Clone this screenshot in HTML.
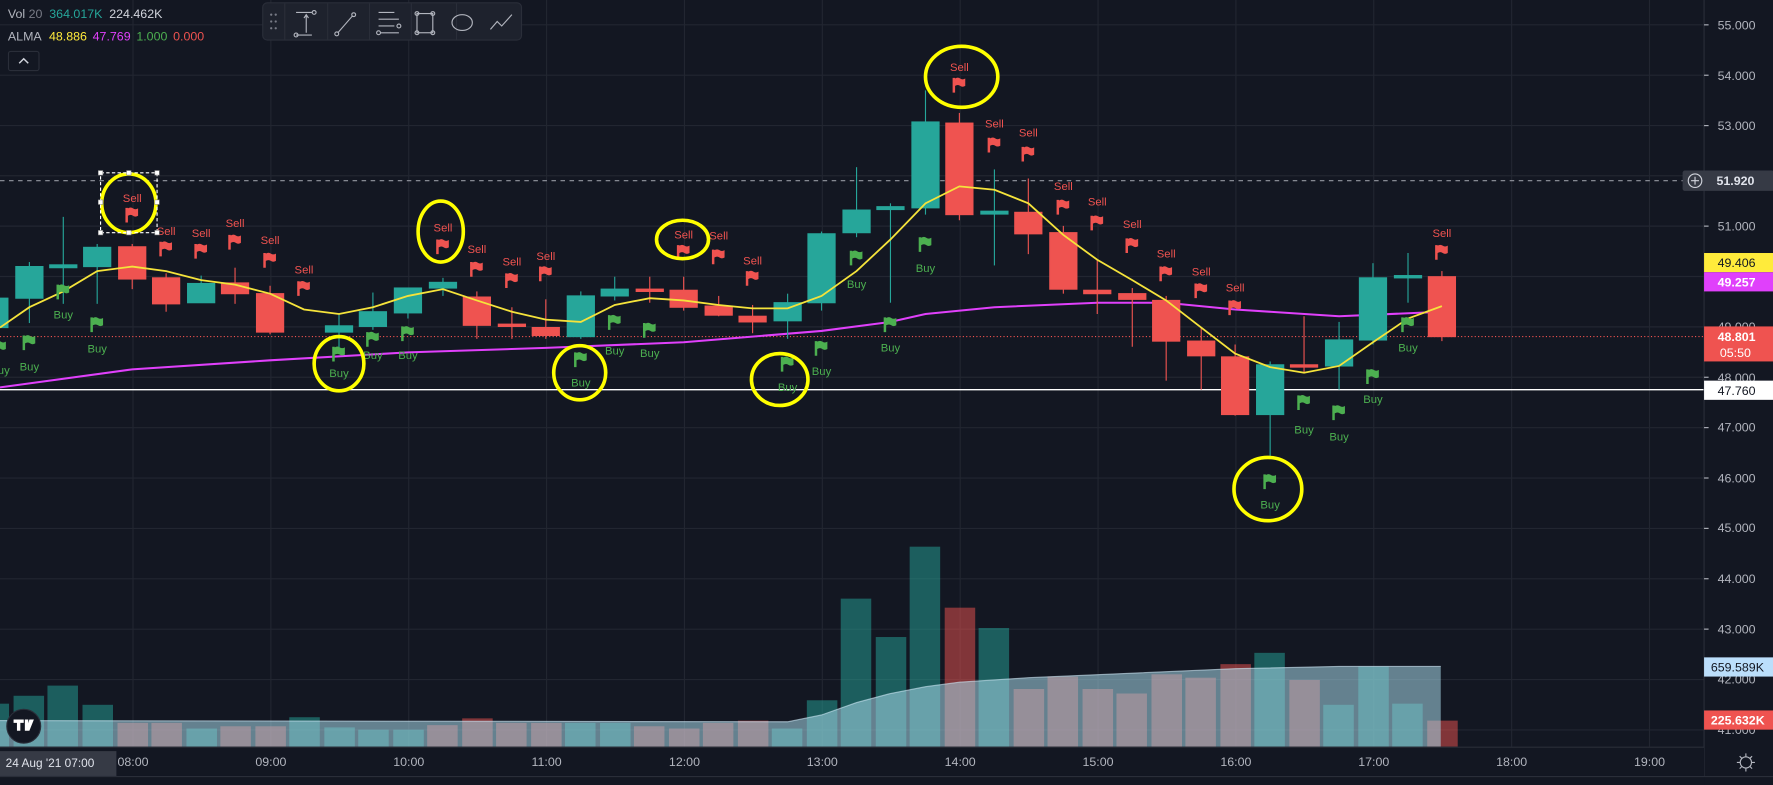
<!DOCTYPE html>
<html><head><meta charset="utf-8"><style>
html,body{margin:0;padding:0;background:#131722;overflow:hidden}
svg{display:block}
text{font-family:"Liberation Sans",Arial,sans-serif}
</style></head><body>
<svg width="1773" height="785" viewBox="0 0 1569 695" preserveAspectRatio="none" xmlns="http://www.w3.org/2000/svg">
<defs>
<path id="fl" d="M0 0h2.2v13h-2.2z M2.2 0.5q2.5-1.5 4.5 0t4.5 0v6.5q-2.5 1.5-4.5 0t-4.5 0z"/>
</defs>
<rect width="1569" height="695" fill="#131722"/>
<!-- grid -->
<g stroke="#222631" stroke-width="1">
<line x1="0" y1="22" x2="1508" y2="22"/><line x1="0" y1="66.6" x2="1508" y2="66.6"/><line x1="0" y1="111.2" x2="1508" y2="111.2"/><line x1="0" y1="155.6" x2="1508" y2="155.6"/><line x1="0" y1="200.2" x2="1508" y2="200.2"/><line x1="0" y1="244.8" x2="1508" y2="244.8"/><line x1="0" y1="289.4" x2="1508" y2="289.4"/><line x1="0" y1="334" x2="1508" y2="334"/><line x1="0" y1="378.6" x2="1508" y2="378.6"/><line x1="0" y1="423.2" x2="1508" y2="423.2"/><line x1="0" y1="467.8" x2="1508" y2="467.8"/><line x1="0" y1="512.4" x2="1508" y2="512.4"/><line x1="0" y1="557" x2="1508" y2="557"/><line x1="0" y1="601.6" x2="1508" y2="601.6"/><line x1="0" y1="646.2" x2="1508" y2="646.2"/>
<line x1="117.7" y1="0" x2="117.7" y2="661"/><line x1="239.7" y1="0" x2="239.7" y2="661"/><line x1="361.7" y1="0" x2="361.7" y2="661"/><line x1="483.7" y1="0" x2="483.7" y2="661"/><line x1="605.7" y1="0" x2="605.7" y2="661"/><line x1="727.7" y1="0" x2="727.7" y2="661"/><line x1="849.7" y1="0" x2="849.7" y2="661"/><line x1="971.7" y1="0" x2="971.7" y2="661"/><line x1="1093.7" y1="0" x2="1093.7" y2="661"/><line x1="1215.7" y1="0" x2="1215.7" y2="661"/><line x1="1337.7" y1="0" x2="1337.7" y2="661"/><line x1="1459.7" y1="0" x2="1459.7" y2="661"/>
</g>
<!-- volume bars -->
<g fill-opacity="0.5">
<rect x="-19" y="623" width="27" height="38" fill="#26a69a"/>
<rect x="12" y="616" width="27" height="45" fill="#26a69a"/>
<rect x="42" y="607" width="27" height="54" fill="#26a69a"/>
<rect x="73" y="624" width="27" height="37" fill="#26a69a"/>
<rect x="104" y="640" width="27" height="21" fill="#ef5350"/>
<rect x="134" y="640" width="27" height="21" fill="#ef5350"/>
<rect x="165" y="645" width="27" height="16" fill="#26a69a"/>
<rect x="195" y="643" width="27" height="18" fill="#ef5350"/>
<rect x="226" y="643" width="27" height="18" fill="#ef5350"/>
<rect x="256" y="635" width="27" height="26" fill="#26a69a"/>
<rect x="287" y="644" width="27" height="17" fill="#26a69a"/>
<rect x="317" y="646" width="27" height="15" fill="#26a69a"/>
<rect x="348" y="646" width="27" height="15" fill="#26a69a"/>
<rect x="378" y="642" width="27" height="19" fill="#ef5350"/>
<rect x="409" y="636" width="27" height="25" fill="#ef5350"/>
<rect x="439" y="640" width="27" height="21" fill="#ef5350"/>
<rect x="470" y="640" width="27" height="21" fill="#ef5350"/>
<rect x="500" y="640" width="27" height="21" fill="#26a69a"/>
<rect x="531" y="640" width="27" height="21" fill="#26a69a"/>
<rect x="561" y="643" width="27" height="18" fill="#ef5350"/>
<rect x="592" y="645" width="27" height="16" fill="#ef5350"/>
<rect x="622" y="640" width="27" height="21" fill="#ef5350"/>
<rect x="653" y="638" width="27" height="23" fill="#ef5350"/>
<rect x="683" y="645" width="27" height="16" fill="#26a69a"/>
<rect x="714" y="620" width="27" height="41" fill="#26a69a"/>
<rect x="744" y="530" width="27" height="131" fill="#26a69a"/>
<rect x="775" y="564" width="27" height="97" fill="#26a69a"/>
<rect x="805" y="484" width="27" height="177" fill="#26a69a"/>
<rect x="836" y="538" width="27" height="123" fill="#ef5350"/>
<rect x="866" y="556" width="27" height="105" fill="#26a69a"/>
<rect x="897" y="610" width="27" height="51" fill="#ef5350"/>
<rect x="927" y="599" width="27" height="62" fill="#ef5350"/>
<rect x="958" y="610" width="27" height="51" fill="#ef5350"/>
<rect x="988" y="614" width="27" height="47" fill="#ef5350"/>
<rect x="1019" y="597" width="27" height="64" fill="#ef5350"/>
<rect x="1049" y="600" width="27" height="61" fill="#ef5350"/>
<rect x="1080" y="588" width="27" height="73" fill="#ef5350"/>
<rect x="1110" y="578" width="27" height="83" fill="#26a69a"/>
<rect x="1141" y="602" width="27" height="59" fill="#ef5350"/>
<rect x="1171" y="624" width="27" height="37" fill="#26a69a"/>
<rect x="1202" y="590" width="27" height="71" fill="#26a69a"/>
<rect x="1232" y="623" width="27" height="38" fill="#26a69a"/>
<rect x="1263" y="638" width="27" height="23" fill="#ef5350"/>
</g>
<!-- volume MA area -->
<path d="M0 638 L697 639 L727 633 L758 622 L788 614 L819 608 L849 604 L910 600 L1002 596 L1093 592 L1185 590 L1275 590 L1275 661 L0 661Z" fill="#a8d8ea" fill-opacity="0.55"/>
<path d="M0 638 L697 639 L727 633 L758 622 L788 614 L819 608 L849 604 L910 600 L1002 596 L1093 592 L1185 590 L1275 590" fill="none" stroke="#cfe8f5" stroke-opacity="0.6" stroke-width="1"/>
<!-- lines -->
<line x1="0" y1="160" x2="1500" y2="160" stroke="#9598a1" stroke-dasharray="4,4" stroke-width="1"/>
<line x1="0" y1="298" x2="1508" y2="298" stroke="#ef5350" stroke-dasharray="1,2" stroke-width="1"/>
<line x1="0" y1="345" x2="1508" y2="345" stroke="#ffffff" stroke-width="1.2"/>
<polyline fill="none" stroke="#e040fb" stroke-width="1.8" points="0,343 117,327 239,319 361,312 483,308 605,303 727,293 788,285 819,278 880,272 971,268 1032,268 1093,274 1185,280 1276,276"/>
<!-- candles -->
<g stroke-width="1">
<g stroke="#26a69a" fill="#26a69a">
<line x1="-5" y1="258" x2="-5" y2="295"/><rect x="-17" y="264" width="24" height="26"/>
<line x1="26" y1="232" x2="26" y2="286"/><rect x="14" y="236" width="24" height="28"/>
<line x1="56" y1="192" x2="56" y2="269"/><rect x="44" y="234.5" width="24" height="2.5"/>
<line x1="86" y1="216" x2="86" y2="269"/><rect x="74" y="219" width="24" height="17"/>
<line x1="178" y1="244" x2="178" y2="268"/><rect x="166" y="251" width="24" height="17"/>
<line x1="300" y1="278" x2="300" y2="312"/><rect x="288" y="288.5" width="24" height="5.5"/>
<line x1="330" y1="259" x2="330" y2="292"/><rect x="318" y="276" width="24" height="13"/>
<line x1="361" y1="255" x2="361" y2="282"/><rect x="349" y="255" width="24" height="22"/>
<line x1="392" y1="246" x2="392" y2="262"/><rect x="380" y="250" width="24" height="5"/>
<line x1="514" y1="258" x2="514" y2="300"/><rect x="502" y="262" width="24" height="36"/>
<line x1="544" y1="245" x2="544" y2="266"/><rect x="532" y="256" width="24" height="6"/>
<line x1="697" y1="260" x2="697" y2="300"/><rect x="685" y="268" width="24" height="16"/>
<line x1="727" y1="205" x2="727" y2="275"/><rect x="715" y="207" width="24" height="61"/>
<line x1="758" y1="148" x2="758" y2="210"/><rect x="746" y="186" width="24" height="20"/>
<line x1="788" y1="180" x2="788" y2="268"/><rect x="776" y="183" width="24" height="2.5"/>
<line x1="819" y1="80" x2="819" y2="190"/><rect x="807" y="108" width="24" height="76"/>
<line x1="880" y1="150" x2="880" y2="235"/><rect x="868" y="187" width="24" height="2.5"/>
<line x1="1124" y1="320" x2="1124" y2="405"/><rect x="1112" y="323" width="24" height="44"/>
<line x1="1185" y1="285" x2="1185" y2="345"/><rect x="1173" y="301" width="24" height="23"/>
<line x1="1215" y1="233" x2="1215" y2="305"/><rect x="1203" y="246" width="24" height="55"/>
<line x1="1246" y1="224" x2="1246" y2="268"/><rect x="1234" y="244" width="24" height="2"/>
</g>
<g stroke="#ef5350" fill="#ef5350">
<line x1="117" y1="216" x2="117" y2="256"/><rect x="105" y="218.5" width="24" height="28.5"/>
<line x1="147" y1="242" x2="147" y2="276"/><rect x="135" y="246" width="24" height="23"/>
<line x1="208" y1="237" x2="208" y2="269"/><rect x="196" y="250.5" width="24" height="9.5"/>
<line x1="239" y1="253" x2="239" y2="296"/><rect x="227" y="260" width="24" height="34"/>
<line x1="422" y1="258" x2="422" y2="300"/><rect x="410" y="263" width="24" height="25"/>
<line x1="453" y1="272" x2="453" y2="300"/><rect x="441" y="287" width="24" height="2"/>
<line x1="483" y1="265" x2="483" y2="300"/><rect x="471" y="290" width="24" height="7"/>
<line x1="575" y1="245" x2="575" y2="268"/><rect x="563" y="256" width="24" height="2"/>
<line x1="605" y1="245" x2="605" y2="275"/><rect x="593" y="257" width="24" height="15"/>
<line x1="636" y1="262" x2="636" y2="280"/><rect x="624" y="271" width="24" height="8"/>
<line x1="666" y1="270" x2="666" y2="295"/><rect x="654" y="280" width="24" height="5"/>
<line x1="849" y1="100" x2="849" y2="195"/><rect x="837" y="109" width="24" height="81"/>
<line x1="910" y1="158" x2="910" y2="225"/><rect x="898" y="188" width="24" height="19"/>
<line x1="941" y1="200" x2="941" y2="260"/><rect x="929" y="206" width="24" height="50"/>
<line x1="971" y1="230" x2="971" y2="278"/><rect x="959" y="257" width="24" height="3"/>
<line x1="1002" y1="255" x2="1002" y2="307"/><rect x="990" y="260" width="24" height="5"/>
<line x1="1032" y1="262" x2="1032" y2="337"/><rect x="1020" y="266" width="24" height="36"/>
<line x1="1063" y1="290" x2="1063" y2="345"/><rect x="1051" y="302" width="24" height="13"/>
<line x1="1093" y1="305" x2="1093" y2="368"/><rect x="1081" y="316" width="24" height="51"/>
<line x1="1154" y1="280" x2="1154" y2="330"/><rect x="1142" y="323" width="24" height="2"/>
<line x1="1276" y1="240" x2="1276" y2="302"/><rect x="1264" y="245" width="24" height="53"/>
</g>
</g>
<polyline fill="none" stroke="#f5e33b" stroke-width="1.6" points="0,290 26,272 56,258 86,240 117,236 147,240 178,248 208,252 239,260 269,274 300,278 330,272 361,262 392,256 422,266 453,276 483,283 514,285 544,270 575,264 605,266 636,270 666,273 697,273 727,262 758,240 788,212 819,180 849,165 880,168 910,180 941,208 971,230 1002,248 1032,266 1063,290 1093,313 1124,325 1154,330 1185,324 1215,303 1246,282 1276,271"/>
<!-- sell flags -->
<g fill="#ef5350">
<use href="#fl" x="111" y="184"/><use href="#fl" x="141" y="214"/><use href="#fl" x="172" y="216"/><use href="#fl" x="202" y="208"/><use href="#fl" x="233" y="224"/><use href="#fl" x="263" y="249"/><use href="#fl" x="386" y="212"/><use href="#fl" x="416" y="232"/><use href="#fl" x="447" y="242"/><use href="#fl" x="477" y="236"/><use href="#fl" x="599" y="217"/><use href="#fl" x="630" y="221"/><use href="#fl" x="660" y="240"/><use href="#fl" x="843" y="69"/><use href="#fl" x="874" y="122"/><use href="#fl" x="904" y="130"/><use href="#fl" x="935" y="177"/><use href="#fl" x="965" y="191"/><use href="#fl" x="996" y="211"/><use href="#fl" x="1026" y="236"/><use href="#fl" x="1057" y="251"/><use href="#fl" x="1087" y="266"/><use href="#fl" x="1270" y="217"/>
</g>
<g fill="#ef5350" font-size="10" text-anchor="middle">
<text x="117" y="179">Sell</text><text x="147" y="208">Sell</text><text x="178" y="210">Sell</text><text x="208" y="201">Sell</text><text x="239" y="216">Sell</text><text x="269" y="242">Sell</text><text x="392" y="205">Sell</text><text x="422" y="224">Sell</text><text x="453" y="235">Sell</text><text x="483" y="230">Sell</text><text x="605" y="211">Sell</text><text x="636" y="212">Sell</text><text x="666" y="234">Sell</text><text x="849" y="63">Sell</text><text x="880" y="113">Sell</text><text x="910" y="121">Sell</text><text x="941" y="168">Sell</text><text x="971" y="182">Sell</text><text x="1002" y="202">Sell</text><text x="1032" y="228">Sell</text><text x="1063" y="244">Sell</text><text x="1093" y="258">Sell</text><text x="1276" y="210">Sell</text>
</g>
<!-- buy flags -->
<g fill="#4caf50">
<use href="#fl" x="-6" y="302"/><use href="#fl" x="20" y="297"/><use href="#fl" x="50" y="252"/><use href="#fl" x="80" y="281"/><use href="#fl" x="294" y="307"/><use href="#fl" x="324" y="294"/><use href="#fl" x="355" y="289"/><use href="#fl" x="508" y="312"/><use href="#fl" x="538" y="279"/><use href="#fl" x="569" y="286"/><use href="#fl" x="691" y="316"/><use href="#fl" x="721" y="302"/><use href="#fl" x="752" y="222"/><use href="#fl" x="782" y="281"/><use href="#fl" x="813" y="210"/><use href="#fl" x="1118" y="420"/><use href="#fl" x="1148" y="350"/><use href="#fl" x="1179" y="359"/><use href="#fl" x="1209" y="327"/><use href="#fl" x="1240" y="281"/>
</g>
<g fill="#4caf50" font-size="10" text-anchor="middle">
<text x="0" y="331">Buy</text><text x="26" y="328">Buy</text><text x="56" y="282">Buy</text><text x="86" y="312">Buy</text><text x="300" y="334">Buy</text><text x="330" y="318">Buy</text><text x="361" y="318">Buy</text><text x="514" y="342">Buy</text><text x="544" y="314">Buy</text><text x="575" y="316">Buy</text><text x="697" y="346">Buy</text><text x="727" y="332">Buy</text><text x="758" y="255">Buy</text><text x="788" y="311">Buy</text><text x="819" y="241">Buy</text><text x="1124" y="450">Buy</text><text x="1154" y="384">Buy</text><text x="1185" y="390">Buy</text><text x="1215" y="357">Buy</text><text x="1246" y="311">Buy</text>
</g>
<!-- yellow circles -->
<g fill="none" stroke="#ffff00" stroke-width="3.2">
<ellipse cx="114" cy="180" rx="24" ry="26"/>
<ellipse cx="390" cy="205" rx="20" ry="27"/>
<ellipse cx="300" cy="322" rx="22" ry="24"/>
<ellipse cx="513" cy="330" rx="23" ry="24"/>
<ellipse cx="604" cy="212" rx="23" ry="17"/>
<ellipse cx="690" cy="336" rx="25" ry="23"/>
<ellipse cx="851" cy="68" rx="32" ry="27"/>
<ellipse cx="1122" cy="433" rx="30" ry="28"/>
</g>
<!-- selection box -->
<rect x="89" y="153" width="50" height="53" fill="none" stroke="#fff" stroke-dasharray="3,2" stroke-width="1"/>
<g fill="#fff" stroke="#888" stroke-width="0.5">
<rect x="87" y="151" width="4" height="4"/><rect x="112" y="151" width="4" height="4"/><rect x="137" y="151" width="4" height="4"/><rect x="87" y="177" width="4" height="4"/><rect x="137" y="177" width="4" height="4"/><rect x="87" y="204" width="4" height="4"/><rect x="112" y="204" width="4" height="4"/><rect x="137" y="204" width="4" height="4"/>
</g>
<!-- right axis -->
<rect x="1508" y="0" width="61" height="695" fill="#131722"/>
<line x1="1508" y1="0" x2="1508" y2="687" stroke="#2a2e39"/>
<g fill="#b2b5be" font-size="11">
<text x="1520" y="26">55.000</text><text x="1520" y="71">54.000</text><text x="1520" y="115">53.000</text><text x="1520" y="204">51.000</text><text x="1520" y="293">49.000</text><text x="1520" y="338">48.000</text><text x="1520" y="382">47.000</text><text x="1520" y="427">46.000</text><text x="1520" y="471">45.000</text><text x="1520" y="516">44.000</text><text x="1520" y="561">43.000</text><text x="1520" y="605">42.000</text><text x="1520" y="650">41.000</text>
</g>
<g stroke="#b2b5be"><line x1="1508" y1="22" x2="1512" y2="22"/><line x1="1508" y1="66.6" x2="1512" y2="66.6"/><line x1="1508" y1="111.2" x2="1512" y2="111.2"/><line x1="1508" y1="200.2" x2="1512" y2="200.2"/><line x1="1508" y1="334" x2="1512" y2="334"/><line x1="1508" y1="378.6" x2="1512" y2="378.6"/><line x1="1508" y1="423.2" x2="1512" y2="423.2"/><line x1="1508" y1="467.8" x2="1512" y2="467.8"/><line x1="1508" y1="512.4" x2="1512" y2="512.4"/><line x1="1508" y1="557" x2="1512" y2="557"/></g>
<rect x="1489" y="151" width="81" height="18" rx="2" fill="#363a45"/>
<circle cx="1500" cy="160" r="6" fill="none" stroke="#d1d4dc" stroke-width="1"/>
<path d="M1500 156.5v7M1496.5 160h7" stroke="#d1d4dc" stroke-width="1"/>
<text x="1519" y="164" fill="#e0e3eb" font-size="11" font-weight="bold">51.920</text>
<rect x="1508" y="224" width="61" height="17" fill="#ffeb3b"/><text x="1520" y="236.5" fill="#131722" font-size="11">49.406</text>
<rect x="1508" y="241" width="61" height="17" fill="#e040fb"/><text x="1520" y="253.5" fill="#fff" font-size="11" font-weight="bold">49.257</text>
<rect x="1508" y="289" width="61" height="31" fill="#ef5350"/><text x="1520" y="302" fill="#fff" font-size="11" font-weight="bold">48.801</text><text x="1522" y="316" fill="#fff" font-size="11">05:50</text>
<rect x="1508" y="337" width="61" height="17" fill="#ffffff"/><text x="1520" y="349.5" fill="#131722" font-size="11">47.760</text>
<rect x="1508" y="582" width="61" height="17" fill="#bbdefb"/><text x="1514" y="594.5" fill="#131722" font-size="11">659.589K</text>
<rect x="1508" y="629" width="61" height="17" fill="#ef5350"/><text x="1514" y="641.5" fill="#fff" font-size="11" font-weight="bold">225.632K</text>
<!-- time axis -->
<rect x="0" y="662" width="1508" height="25" fill="#131722"/>
<line x1="0" y1="661.5" x2="1508" y2="661.5" stroke="#2a2e39"/>
<line x1="0" y1="687.5" x2="1569" y2="687.5" stroke="#2a2e39"/>
<g fill="#b2b5be" font-size="11" text-anchor="middle">
<text x="117.7" y="678">08:00</text><text x="239.7" y="678">09:00</text><text x="361.7" y="678">10:00</text><text x="483.7" y="678">11:00</text><text x="605.7" y="678">12:00</text><text x="727.7" y="678">13:00</text><text x="849.7" y="678">14:00</text><text x="971.7" y="678">15:00</text><text x="1093.7" y="678">16:00</text><text x="1215.7" y="678">17:00</text><text x="1337.7" y="678">18:00</text><text x="1459.7" y="678">19:00</text>
</g>
<rect x="0" y="665" width="103" height="22" fill="#363a45"/>
<text x="5" y="679" fill="#e0e3eb" font-size="10.5">24 Aug '21   07:00</text>
<circle cx="1545" cy="675" r="5" fill="none" stroke="#b2b5be"/>
<path d="M1545 667v3M1545 680v3M1537 675h3M1550 675h3M1539.5 669.5l2 2M1548.5 678.5l2 2M1539.5 680.5l2-2M1548.5 671.5l2-2" stroke="#b2b5be"/>
<!-- TV logo -->
<circle cx="21" cy="643" r="15" fill="#131722" stroke="#2a2e39"/>
<path d="M12 637h9v3h-3v7h-3v-7h-3z M22 637h3v10h-3z M26 637h4l-4 10h-3z" fill="#fff"/>
<!-- legend -->
<g font-size="11">
<text x="7" y="16" fill="#b2b5be">Vol <tspan fill="#787b86">20</tspan> <tspan fill="#26a69a" dx="3">364.017K</tspan> <tspan fill="#d1d4dc" dx="3">224.462K</tspan></text>
<text x="7" y="36" fill="#b2b5be">ALMA <tspan fill="#ffeb3b" dx="4">48.886</tspan> <tspan fill="#e040fb" dx="2">47.769</tspan> <tspan fill="#4caf50" dx="2">1.000</tspan> <tspan fill="#ef5350" dx="2">0.000</tspan></text>
</g>
<rect x="7.5" y="45.5" width="27" height="17" rx="2" fill="#131722" stroke="#2a2e39"/>
<path d="M17 56l4-4 4 4" fill="none" stroke="#d1d4dc" stroke-width="1.3"/>
<!-- toolbar -->
<rect x="232.5" y="2.5" width="229" height="33" rx="4" fill="#1e222d" stroke="#2a2e39"/>
<g fill="#787b86"><circle cx="240" cy="13" r="1"/><circle cx="244" cy="13" r="1"/><circle cx="240" cy="19" r="1"/><circle cx="244" cy="19" r="1"/><circle cx="240" cy="25" r="1"/><circle cx="244" cy="25" r="1"/></g>
<g stroke="#2a2e39"><line x1="252" y1="3" x2="252" y2="35"/><line x1="290" y1="3" x2="290" y2="35"/><line x1="327" y1="3" x2="327" y2="35"/><line x1="364" y1="3" x2="364" y2="35"/><line x1="404" y1="3" x2="404" y2="35"/><line x1="423" y1="3" x2="423" y2="35" stroke-opacity="0"/></g>
<g fill="none" stroke="#b2b5be" stroke-width="1">
<path d="M262 11h14M262 31h14M271 13v16M269 16l2-3 2 3"/><circle cx="278" cy="11" r="1.7"/><circle cx="262" cy="31" r="1.7"/>
<path d="M299 29l13-15"/><circle cx="298" cy="30" r="1.7"/><circle cx="313" cy="13" r="1.7"/>
<path d="M335 11h14M335 17h18M335 23h14M337 29h16"/><circle cx="353" cy="23" r="1.7"/><circle cx="335" cy="29" r="1.7"/>
<rect x="369" y="12" width="14" height="17"/><circle cx="369" cy="12" r="1.7"/><circle cx="383" cy="12" r="1.7"/><circle cx="369" cy="29" r="1.7"/><circle cx="383" cy="29" r="1.7"/>
<ellipse cx="409" cy="20" rx="9" ry="7"/>
<path d="M434 26l6-7 4 4 9-10"/>
</g>
</svg>
</body></html>
